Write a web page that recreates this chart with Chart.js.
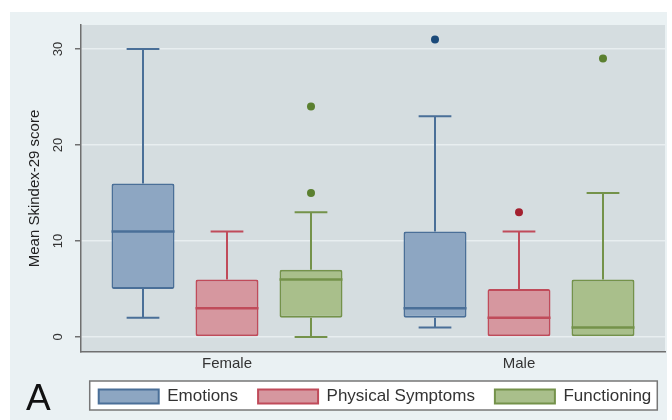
<!DOCTYPE html>
<html>
<head>
<meta charset="utf-8">
<title>Mean Skindex-29 score by sex</title>
<script src="https://cdn.jsdelivr.net/npm/chart.js@4"></script>
<style>
  html, body { margin: 0; padding: 0; background: #fff; }
  canvas { display: block; }
</style>
</head>
<body>
<canvas id="boxChart" width="672" height="420"></canvas>
<script>
// Categories and axis ticks
const categories = ["Female", "Male"];
const yTicks = [0, 10, 20, 30];

// Emotions (lower whisker, Q1, median, Q3, upper whisker, outliers)
const emotionsLow = [2, 1];
const emotionsQ1 = [5, 2];
const emotionsMedian = [11, 3];
const emotionsQ3 = [16, 11];
const emotionsHigh = [30, 23];
const emotionsOutliers = [[], [31]];

// Physical Symptoms
const physicalLow = [0, 0];
const physicalQ1 = [0, 0];
const physicalMedian = [3, 2];
const physicalQ3 = [6, 5];
const physicalHigh = [11, 11];
const physicalOutliers = [[], [13]];

// Functioning
const functioningLow = [0, 0];
const functioningQ1 = [2, 0];
const functioningMedian = [6, 1];
const functioningQ3 = [7, 6];
const functioningHigh = [13, 15];
const functioningOutliers = [[24, 15], [29]];

const FONT = "'Liberation Sans', Arial, sans-serif";

// Build one floating-bar dataset per series (box = Q1..Q3)
function makeBoxSet(label, q1, q3, low, median, high, outliers, fill, line, dot) {
  return {
    label: label,
    data: q1.map((v, i) => [v, q3[i]]),
    lows: low,
    medians: median,
    highs: high,
    outliers: outliers,
    outlierColor: dot,
    backgroundColor: fill,
    borderColor: line,
    borderWidth: 2,
    borderSkipped: false,
    borderRadius: 2
  };
}

// Whiskers, medians and outlier dots, placed with the chart's own scales
const boxWhiskers = {
  id: "boxWhiskers",
  afterDatasetsDraw(chart) {
    const ctx = chart.ctx;
    const y = chart.scales.y;
    chart.data.datasets.forEach((ds, di) => {
      const meta = chart.getDatasetMeta(di);
      meta.data.forEach((bar, i) => {
        const x = bar.x;
        const half = bar.width / 2;
        const cap = bar.width * 0.26;
        const q1 = ds.data[i][0];
        const q3 = ds.data[i][1];
        ctx.save();
        ctx.strokeStyle = ds.borderColor;
        ctx.lineWidth = 2;
        ctx.beginPath();
        if (ds.highs[i] > q3) {
          ctx.moveTo(x, y.getPixelForValue(q3));
          ctx.lineTo(x, y.getPixelForValue(ds.highs[i]));
          ctx.moveTo(x - cap, y.getPixelForValue(ds.highs[i]));
          ctx.lineTo(x + cap, y.getPixelForValue(ds.highs[i]));
        }
        if (ds.lows[i] < q1) {
          ctx.moveTo(x, y.getPixelForValue(q1));
          ctx.lineTo(x, y.getPixelForValue(ds.lows[i]));
          ctx.moveTo(x - cap, y.getPixelForValue(ds.lows[i]));
          ctx.lineTo(x + cap, y.getPixelForValue(ds.lows[i]));
        }
        ctx.stroke();

        // median
        ctx.lineWidth = 2.5;
        ctx.beginPath();
        ctx.moveTo(x - half, y.getPixelForValue(ds.medians[i]));
        ctx.lineTo(x + half, y.getPixelForValue(ds.medians[i]));
        ctx.stroke();

        ctx.fillStyle = ds.outlierColor;
        ds.outliers[i].forEach(v => {
          ctx.beginPath();
          ctx.arc(x, y.getPixelForValue(v), 4, 0, Math.PI * 2);
          ctx.fill();
        });
        ctx.restore();
      });
    });
  }
};

// Backgrounds, legend frame and the panel letter
const panelDecor = {
  id: "panelDecor",
  afterLayout(chart) {
    // widen the legend box so the single row is centred under the plot
    const lg = chart.legend;
    lg.left = 40;
    lg.right = 710;
    lg.width = lg.right - lg.left;
  },
  beforeDraw(chart) {
    const ctx = chart.ctx;
    const a = chart.chartArea;
    ctx.save();
    ctx.fillStyle = "#ffffff";
    ctx.fillRect(0, 0, chart.width, chart.height);
    ctx.fillStyle = "#eaf1f3";
    ctx.fillRect(10, 12, 657, 408);
    ctx.fillStyle = "#d5dde0";
    ctx.fillRect(a.left, a.top, a.right - a.left, a.bottom - a.top);

    const hb = chart.legend.legendHitBoxes;
    if (hb && hb.length) {
      const first = hb[0];
      const last = hb[hb.length - 1];
      const left = first.left - 9;
      const right = last.left + last.width + 6;
      const top = first.top - 7;
      const h = first.height + 12;
      ctx.fillStyle = "#ffffff";
      ctx.fillRect(left, top, right - left, h);
      ctx.strokeStyle = "#777777";
      ctx.lineWidth = 1.5;
      ctx.strokeRect(left, top, right - left, h);
    }
    ctx.restore();
  },
  afterDraw(chart) {
    const ctx = chart.ctx;
    ctx.save();
    ctx.fillStyle = "#111111";
    ctx.font = "37px " + FONT;
    ctx.textBaseline = "alphabetic";
    ctx.fillText("A", 26, 410);
    ctx.restore();
  }
};

new Chart(document.getElementById("boxChart"), {
  type: "bar",
  data: {
    labels: categories,
    datasets: [
      makeBoxSet("Emotions", emotionsQ1, emotionsQ3, emotionsLow, emotionsMedian, emotionsHigh,
        emotionsOutliers, "#8da6c2", "#4a6f98", "#1b4a7a"),
      makeBoxSet("Physical Symptoms", physicalQ1, physicalQ3, physicalLow, physicalMedian, physicalHigh,
        physicalOutliers, "#d6979f", "#c04b5a", "#a3202f"),
      makeBoxSet("Functioning", functioningQ1, functioningQ3, functioningLow, functioningMedian, functioningHigh,
        functioningOutliers, "#a9bf8b", "#74924a", "#5b8030")
    ]
  },
  options: {
    responsive: false,
    animation: false,
    devicePixelRatio: 1,
    categoryPercentage: 0.863,
    barPercentage: 0.75,
    layout: { padding: { left: 20, right: 7, top: 25, bottom: 5 } },
    plugins: {
      tooltip: { enabled: false },
      legend: {
        position: "bottom",
        labels: {
          boxWidth: 60,
          boxHeight: 14,
          padding: 20,
          color: "#333333",
          font: { family: FONT, size: 17 }
        }
      }
    },
    scales: {
      x: {
        grid: { display: false, drawTicks: false },
        border: { display: true, color: "#707070", width: 1.5 },
        ticks: { color: "#333333", padding: 3, font: { family: FONT, size: 15 } },
        afterFit(scale) { scale.height = 16; }
      },
      y: {
        min: -1.5625,
        max: 32.5,
        afterBuildTicks(scale) { scale.ticks = yTicks.map(v => ({ value: v })); },
        grid: { color: "#e8eef0", lineWidth: 1.5, tickLength: 6, tickColor: "#707070" },
        border: { display: true, color: "#707070", width: 1.5 },
        ticks: {
          minRotation: 90,
          maxRotation: 90,
          crossAlign: "center",
          padding: 9,
          color: "#333333",
          font: { family: FONT, size: 13 }
        },
        title: {
          display: true,
          text: "Mean Skindex-29 score",
          color: "#222222",
          padding: { top: 6, bottom: 0 },
          font: { family: FONT, size: 15 }
        },
        afterFit(scale) { scale.width = 61; }
      }
    }
  },
  plugins: [panelDecor, boxWhiskers]
});
</script>
</body>
</html>
